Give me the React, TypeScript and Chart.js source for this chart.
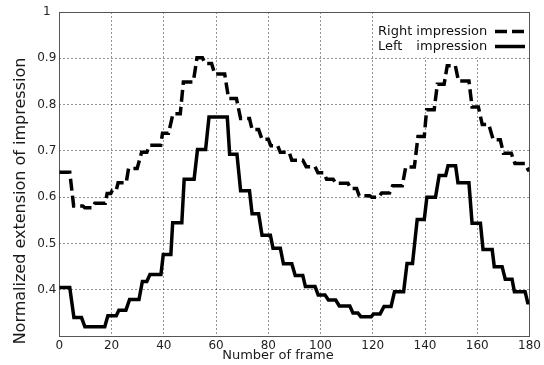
import React, { useEffect, useRef } from 'react';
import { Chart, registerables } from 'chart.js';

Chart.register(...registerables);

// Right impression (dashed): plateaus of the step curve
const rightStart = [0, 5.5, 9.8, 13.6, 18.3, 20.3, 22.5, 26.5, 31.5, 34.5, 39.5, 43.5, 47.5, 52.7, 55.8, 59.5, 64.8, 69.4, 73.8, 77.6, 81, 84.6, 89, 94.5, 99, 102.3, 105.8, 111.5, 114.8, 119.6, 123.4, 127.6, 132.6, 137.3, 140.6, 144.7, 148.5, 152.8, 158, 161.9, 166.1, 170, 174.4, 179.5];
const rightEnd = [4, 9, 12.8, 17.6, 19.7, 21.8, 25.6, 29.8, 33.5, 38.8, 41.8, 46.3, 51.3, 54.8, 58.3, 63.3, 67.8, 72.8, 76.3, 80, 83.6, 88, 93.2, 97.9, 101.2, 104.8, 110.5, 113.8, 118.8, 122.2, 126.4, 131.3, 135.9, 139.7, 143.5, 147.3, 151.6, 156.8, 160.4, 164.4, 168.8, 173, 178.2, 180];
const rightLevel = [0.654, 0.581, 0.577, 0.587, 0.608, 0.615, 0.631, 0.662, 0.697, 0.712, 0.738, 0.78, 0.849, 0.901, 0.889, 0.866, 0.813, 0.77, 0.746, 0.725, 0.711, 0.697, 0.68, 0.666, 0.653, 0.639, 0.63, 0.619, 0.603, 0.6, 0.609, 0.625, 0.665, 0.731, 0.789, 0.844, 0.884, 0.851, 0.795, 0.757, 0.724, 0.695, 0.673, 0.659];

// Left impression (solid)
const leftStart = [0, 5.6, 9.8, 18.6, 22.8, 26.9, 31.8, 34.7, 39.8, 43.4, 47.8, 52.9, 57.3, 65.2, 69.4, 73.8, 77.6, 81.8, 85.8, 90.3, 94.2, 99.1, 103, 107.2, 112.4, 115.4, 120.3, 124.3, 128.3, 133.1, 137, 140.7, 145.4, 148.8, 152.6, 158, 162.2, 166.5, 170.7, 174.2, 179.3];
const leftEnd = [4, 8.5, 17.4, 21.8, 25.5, 30.5, 33.5, 38.9, 42.7, 46.9, 51.6, 56, 64.3, 68, 72.8, 76.3, 80.8, 84.6, 89, 93.2, 97.9, 101.7, 105.8, 111.2, 114.3, 119.4, 122.8, 127, 131.8, 135.2, 139.7, 144, 147.9, 151.7, 156.8, 161.2, 165.7, 169.5, 173.3, 178.3, 180];
const leftLevel = [0.405, 0.34, 0.32, 0.344, 0.356, 0.379, 0.418, 0.433, 0.476, 0.545, 0.639, 0.703, 0.773, 0.693, 0.614, 0.564, 0.518, 0.49, 0.456, 0.431, 0.407, 0.389, 0.378, 0.365, 0.35, 0.342, 0.348, 0.364, 0.396, 0.457, 0.552, 0.6, 0.647, 0.668, 0.631, 0.544, 0.487, 0.45, 0.423, 0.396, 0.372];

const legendNames = ['Right', 'Left'];
const legendWord = 'impression';
const xTitle = 'Number of frame';
const yTitle = 'Normalized extension of impression';
const xMin = 0;
const xMax = 180;
const xStep = 20;
const yMin = 0.3;
const yMax = 1;
const yStep = 0.1;

function toPoints(s: number[], e: number[], v: number[]) {
  const pts: { x: number; y: number }[] = [];
  for (let i = 0; i < s.length; i++) {
    pts.push({ x: s[i], y: v[i] });
    if (e[i] !== s[i]) pts.push({ x: e[i], y: v[i] });
  }
  return pts;
}

const FONT = '"DejaVu Sans", sans-serif';

const decorPlugin = {
  id: 'decor',
  beforeDatasetsDraw(chart: any) {
    const { ctx, chartArea: a } = chart;
    ctx.save();
    ctx.strokeStyle = '#555';
    ctx.lineWidth = 1;
    ctx.setLineDash([]);
    ctx.strokeRect(Math.round(a.left) + 0.5, Math.round(a.top) + 0.5, Math.round(a.right - a.left), Math.round(a.bottom - a.top));
    ctx.restore();
  },
  afterDraw(chart: any) {
    const { ctx, chartArea: a } = chart;
    ctx.save();
    // legend box
    ctx.fillStyle = '#fff';
    ctx.fillRect(377, a.top + 1, a.right - 377 - 1, 44);
    ctx.font = '13px ' + FONT;
    ctx.fillStyle = '#111';
    ctx.textBaseline = 'middle';
    ctx.textAlign = 'left';
    const tx = 378;
    const rows = [31.5, 46.5];
    const wordX = tx + ctx.measureText(legendNames[0] + ' ').width;
    ctx.fillText(legendNames[0], tx, rows[0]);
    ctx.fillText(legendWord, wordX, rows[0]);
    ctx.fillText(legendNames[1], tx, rows[1]);
    ctx.fillText(legendWord, wordX, rows[1]);
    ctx.strokeStyle = '#000';
    ctx.lineWidth = 3.5;
    ctx.setLineDash([12, 5]);
    ctx.beginPath();
    ctx.moveTo(495, rows[0]);
    ctx.lineTo(525, rows[0]);
    ctx.stroke();
    ctx.setLineDash([]);
    ctx.beginPath();
    ctx.moveTo(495, rows[1]);
    ctx.lineTo(525, rows[1]);
    ctx.stroke();
    // axis titles
    ctx.fillStyle = '#1a1a1a';
    ctx.textAlign = 'center';
    ctx.font = '13px ' + FONT;
    ctx.fillText(xTitle, 278, 356);
    ctx.translate(21, 201);
    ctx.rotate(-Math.PI / 2);
    ctx.font = '16px ' + FONT;
    ctx.fillText(yTitle, 0, 0);
    ctx.restore();
  },
};

export default function App() {
  const ref = useRef<HTMLCanvasElement | null>(null);
  useEffect(() => {
    if (!ref.current) return;
    const chart = new Chart(ref.current, {
      type: 'line',
      data: {
        datasets: [
          {
            label: 'Right impression',
            data: toPoints(rightStart, rightEnd, rightLevel),
            borderColor: '#000',
            borderWidth: 3.5,
            borderDash: [12, 5],
            pointRadius: 0,
            tension: 0,
            fill: false,
          },
          {
            label: 'Left impression',
            data: toPoints(leftStart, leftEnd, leftLevel),
            borderColor: '#000',
            borderWidth: 3.5,
            pointRadius: 0,
            tension: 0,
            fill: false,
          },
        ],
      },
      options: {
        animation: false,
        responsive: false,
        maintainAspectRatio: false,
        layout: { padding: { left: 0, right: 11.3, top: 12, bottom: 0 } },
        plugins: { legend: { display: false }, tooltip: { enabled: false }, title: { display: false } },
        scales: {
          x: {
            type: 'linear',
            min: xMin,
            max: xMax,
            ticks: { stepSize: xStep, color: '#222', font: { family: FONT, size: 12 }, padding: 3 },
            grid: { color: 'rgba(0,0,0,0.42)', lineWidth: 1, drawTicks: false },
            border: { display: false, dash: [2, 2] },
            afterFit: (s: any) => { s.height = 28.9; },
          },
          y: {
            type: 'linear',
            min: yMin,
            max: yMax,
            ticks: {
              stepSize: yStep,
              color: '#222',
              font: { family: FONT, size: 12 },
              padding: 3,
              crossAlign: 'center',
              callback: (v: any) => (v < yMin + 0.05 ? '' : String(Math.round(v * 10) / 10)),
            },
            grid: { color: 'rgba(0,0,0,0.42)', lineWidth: 1, drawTicks: false },
            border: { display: false, dash: [2, 2] },
            afterFit: (s: any) => { s.width = 59.3; },
          },
        },
      },
      plugins: [decorPlugin],
    } as any);
    return () => chart.destroy();
  }, []);
  return (
    <div style={{ position: 'fixed', left: 0, top: 0, width: 544, height: 365, background: '#fff' }}>
      <canvas ref={ref} width={544} height={365} style={{ display: 'block', width: 544, height: 365 }} />
    </div>
  );
}
